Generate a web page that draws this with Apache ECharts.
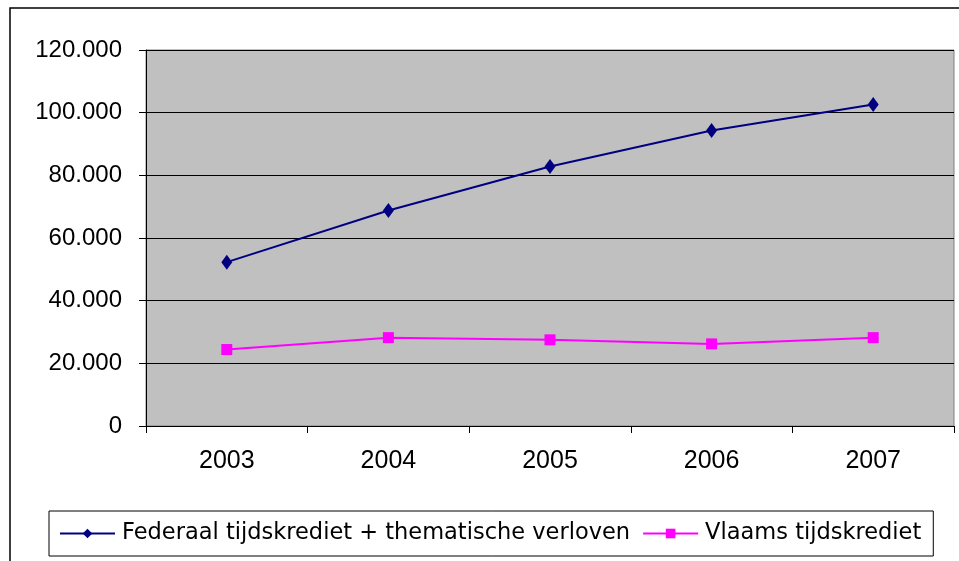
<!DOCTYPE html>
<html><head><meta charset="utf-8">
<script src="https://cdn.jsdelivr.net/npm/echarts@6/dist/echarts.min.js"></script>
<style>html,body{margin:0;padding:0;background:#fff}#c{width:959px;height:561px}</style>
</head><body><div id="c"></div>
<script>
var categories = ['2003','2004','2005','2006','2007'];
var federaal = [52300, 68800, 82800, 94300, 102600];
var vlaams = [24400, 28200, 27500, 26200, 28200];
var seriesNames = ['Federaal tijdskrediet + thematische verloven', 'Vlaams tijdskrediet'];

var chart = echarts.init(document.getElementById('c'));
function fmt(v){ return String(v).replace(/\B(?=(\d{3})+(?!\d))/g,'.'); }
chart.setOption({
  animation:false,
  backgroundColor:'#fff',
  graphic:[{type:'rect',shape:{x:10,y:8,width:1000,height:600},style:{fill:'none',stroke:'#000',lineWidth:1.5},z:-1}],
  grid:{left:146,right:5,top:50,bottom:135,show:true,backgroundColor:'#C0C0C0',borderColor:'#808080',borderWidth:1},
  legend:{
    left:49, top:511,
    padding:[10,12,10,10],
    borderColor:'#000', borderWidth:1, backgroundColor:'#fff',
    itemWidth:55, itemHeight:12, itemGap:12,
    textStyle:{fontFamily:'DejaVu Sans',fontSize:22.5,lineHeight:25,color:'#000',padding:[0,0,0,2]},
    data:seriesNames
  },
  xAxis:{
    type:'category', data:categories, boundaryGap:true,
    axisLine:{lineStyle:{color:'#000',width:1}},
    axisTick:{show:true,length:7,lineStyle:{color:'#000'}},
    axisLabel:{fontFamily:'Liberation Sans, Arial',fontSize:25,color:'#000',margin:23}
  },
  yAxis:{
    type:'value', min:0, max:120000, interval:20000,
    axisLine:{show:true,lineStyle:{color:'#000'}},
    axisTick:{show:true,length:7,lineStyle:{color:'#000'}},
    splitLine:{show:true,lineStyle:{color:'#000',width:1}},
    axisLabel:{fontFamily:'Liberation Sans, Arial',fontSize:24,color:'#000',margin:24,formatter:fmt}
  },
  series:[
    {name:seriesNames[0],type:'line',data:federaal,symbol:'diamond',symbolSize:[11,15],
     lineStyle:{color:'#000080',width:2},itemStyle:{color:'#000080'}},
    {name:seriesNames[1],type:'line',data:vlaams,symbol:'rect',symbolSize:11,
     lineStyle:{color:'#FF00FF',width:2},itemStyle:{color:'#FF00FF'}}
  ]
});
</script></body></html>
